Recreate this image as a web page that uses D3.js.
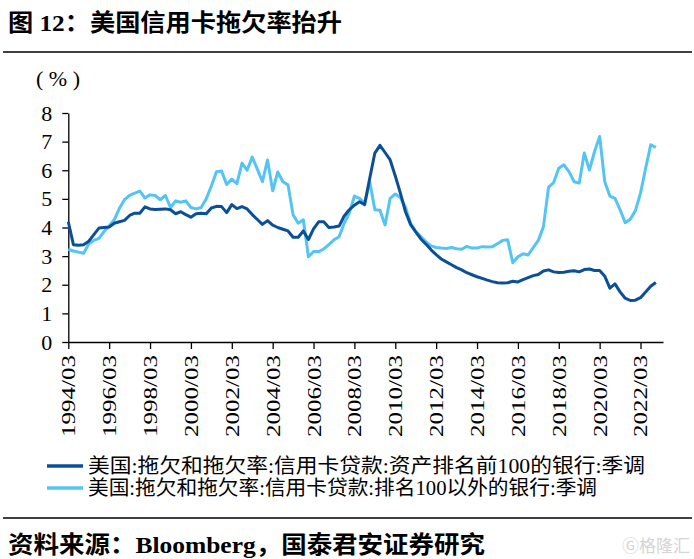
<!DOCTYPE html>
<html>
<head>
<meta charset="utf-8">
<script src="https://cdn.jsdelivr.net/npm/d3@7"></script>
<style>
  body { margin: 0; background: #fff; }
  svg { display: block; }
  .serif { font-family: "Liberation Serif", "Noto Sans CJK SC", serif; }
</style>
</head>
<body>
<svg id="chart" width="694" height="559"></svg>
<script>
// quarterly, 1994/03 .. 2022/12
const startYear = 1994;
const quarters = [];
for (let i = 0; i < 116; i++) {
  const yr = startYear + Math.floor(i / 4);
  const mm = ["03", "06", "09", "12"][i % 4];
  quarters.push(yr + "/" + mm);
}

const tickLabels = ["1994/03", "1996/03", "1998/03", "2000/03", "2002/03", "2004/03", "2006/03",
  "2008/03", "2010/03", "2012/03", "2014/03", "2016/03", "2018/03", "2020/03", "2022/03"];

const yTicks = [0, 1, 2, 3, 4, 5, 6, 7, 8];

// 资产排名前100的银行
const top100 = [4.2, 3.4, 3.38, 3.4, 3.52, 3.75, 3.98, 4.0, 4.02, 4.15,
  4.2, 4.25, 4.42, 4.5, 4.5, 4.72, 4.65, 4.63, 4.64, 4.65,
  4.62, 4.48, 4.55, 4.45, 4.36, 4.48, 4.5, 4.48, 4.68, 4.74,
  4.73, 4.52, 4.8, 4.66, 4.73, 4.65, 4.45, 4.28, 4.11, 4.24,
  4.08, 4.0, 3.94, 3.88, 3.66, 3.66, 3.88, 3.58, 3.95, 4.2,
  4.2, 4.0, 4.02, 4.05, 4.4, 4.62, 4.78, 4.9, 4.8, 5.72,
  6.6, 6.87, 6.62, 6.36, 5.8, 5.2, 4.55, 4.1, 3.85, 3.6,
  3.42, 3.22, 3.05, 2.9, 2.8, 2.7, 2.6, 2.52, 2.42, 2.35,
  2.28, 2.22, 2.16, 2.11, 2.07, 2.06, 2.07, 2.12, 2.1, 2.18,
  2.25, 2.32, 2.36, 2.48, 2.52, 2.45, 2.43, 2.44, 2.47, 2.49,
  2.45, 2.53, 2.55, 2.5, 2.5, 2.3, 1.88, 2.03, 1.75, 1.53,
  1.45, 1.46, 1.55, 1.75, 1.95, 2.08];

// 排名100以外的银行
const others = [3.24, 3.18, 3.14, 3.1, 3.42, 3.55, 3.62, 3.86, 4.05, 4.27,
  4.67, 4.97, 5.12, 5.2, 5.27, 5.03, 5.14, 5.12, 4.97, 5.12,
  4.7, 4.93, 4.88, 4.93, 4.7, 4.65, 4.7, 5.0, 5.45, 5.95,
  5.97, 5.5, 5.69, 5.53, 6.25, 6.0, 6.46, 6.04, 5.6, 6.36,
  5.28, 5.94, 5.6, 5.49, 4.44, 4.15, 4.27, 2.98, 3.16, 3.16,
  3.25, 3.4, 3.57, 3.68, 4.15, 4.5, 5.1, 5.02, 4.85, 5.6,
  4.62, 4.6, 4.09, 5.02, 5.17, 5.05, 4.7, 4.15, 3.86, 3.68,
  3.5, 3.36, 3.3, 3.28, 3.27, 3.3, 3.26, 3.24, 3.34, 3.28,
  3.28, 3.33, 3.32, 3.33, 3.43, 3.55, 3.57, 2.77, 2.98, 3.08,
  3.04, 3.3, 3.55, 4.03, 5.41, 5.57, 6.07, 6.19, 5.95, 5.6,
  5.55, 6.6, 6.01, 6.65, 7.18, 5.6, 5.1, 5.02, 4.62, 4.17,
  4.29, 4.59, 5.2, 6.07, 6.89, 6.8];

const seriesNames = ["美国:拖欠和拖欠率:信用卡贷款:资产排名前100的银行:季调",
  "美国:拖欠和拖欠率:信用卡贷款:排名100以外的银行:季调"];
const colors = ["#0b4f97", "#54c4f2"];

const svg = d3.select("#chart");

// title + rules
svg.append("text").attr("class", "serif")
  .attr("x", 8).attr("y", 31)
  .attr("font-size", 24).attr("font-weight", "bold")
  .attr("textLength", 334).attr("lengthAdjust", "spacingAndGlyphs")
  .text("图 12：美国信用卡拖欠率抬升");
svg.append("line").attr("x1", 3).attr("x2", 692).attr("y1", 52).attr("y2", 52)
  .attr("stroke", "#000").attr("stroke-width", 1.3);
svg.append("line").attr("x1", 3).attr("x2", 692).attr("y1", 518).attr("y2", 518)
  .attr("stroke", "#000").attr("stroke-width", 1.3);

const x = d3.scaleLinear().domain([0, 116.4]).range([68.3, 663]);
const y = d3.scaleLinear().domain([0, 8]).range([342, 113]);

// y axis
const gy = svg.append("g").attr("transform", "translate(68.3,0)")
  .call(d3.axisLeft(y).tickValues(yTicks).tickSize(6).tickSizeOuter(0).tickPadding(10));
gy.selectAll("text").attr("class", "serif").attr("font-size", 22).attr("fill", "#000");
gy.selectAll("line,path").attr("stroke", "#000").attr("stroke-width", 1.3);

svg.append("text")
  .attr("x", 36).attr("y", 86)
  .attr("font-family", "Liberation Serif").attr("font-size", 22)
  .attr("xml:space", "preserve")
  .text("( % )");

// x axis
const tickIdx = tickLabels.map(t => quarters.indexOf(t));
const gx = svg.append("g").attr("transform", "translate(0,342)")
  .call(d3.axisBottom(x).tickValues(tickIdx).tickSize(7).tickSizeOuter(0)
    .tickFormat((d, i) => tickLabels[i]));
gx.selectAll("line,path").attr("stroke", "#000").attr("stroke-width", 1.3);
gx.selectAll("text")
  .attr("class", "serif")
  .attr("font-size", 19).attr("fill", "#000")
  .attr("text-anchor", "end")
  .attr("transform", "rotate(-90)")
  .attr("x", -13).attr("y", 0).attr("dy", "0.34em")
  .attr("textLength", 82).attr("lengthAdjust", "spacingAndGlyphs");

// lines
const line = d3.line().x((d, i) => x(i)).y(d => y(d));
[top100, others].forEach((s, k) => {
  svg.append("path").datum(s)
    .attr("fill", "none")
    .attr("stroke", colors[k])
    .attr("stroke-width", 3)
    .attr("stroke-linejoin", "round")
    .attr("d", line);
});
// draw dark on top like reference
svg.select("path[stroke='" + colors[0] + "']").raise();

// legend
const legendLens = [557, 509];
seriesNames.forEach((name, k) => {
  const ly = 466 + k * 22;
  svg.append("line").attr("x1", 47).attr("x2", 83).attr("y1", ly).attr("y2", ly)
    .attr("stroke", colors[k]).attr("stroke-width", 3.5);
  svg.append("text").attr("class", "serif")
    .attr("x", 88).attr("y", ly + 7).attr("font-size", 20)
    .attr("textLength", legendLens[k]).attr("lengthAdjust", "spacingAndGlyphs")
    .text(name);
});

// source
svg.append("text").attr("class", "serif")
  .attr("x", 8).attr("y", 553)
  .attr("font-size", 24).attr("font-weight", "bold")
  .attr("textLength", 477).attr("lengthAdjust", "spacingAndGlyphs")
  .text("资料来源：Bloomberg，国泰君安证券研究");

svg.append("text")
  .attr("x", 690).attr("y", 552).attr("text-anchor", "end")
  .attr("font-family", "Noto Sans CJK SC").attr("font-size", 17)
  .attr("fill", "#d4d4d4")
  .text("Ⓖ格隆汇");
</script>
</body>
</html>
